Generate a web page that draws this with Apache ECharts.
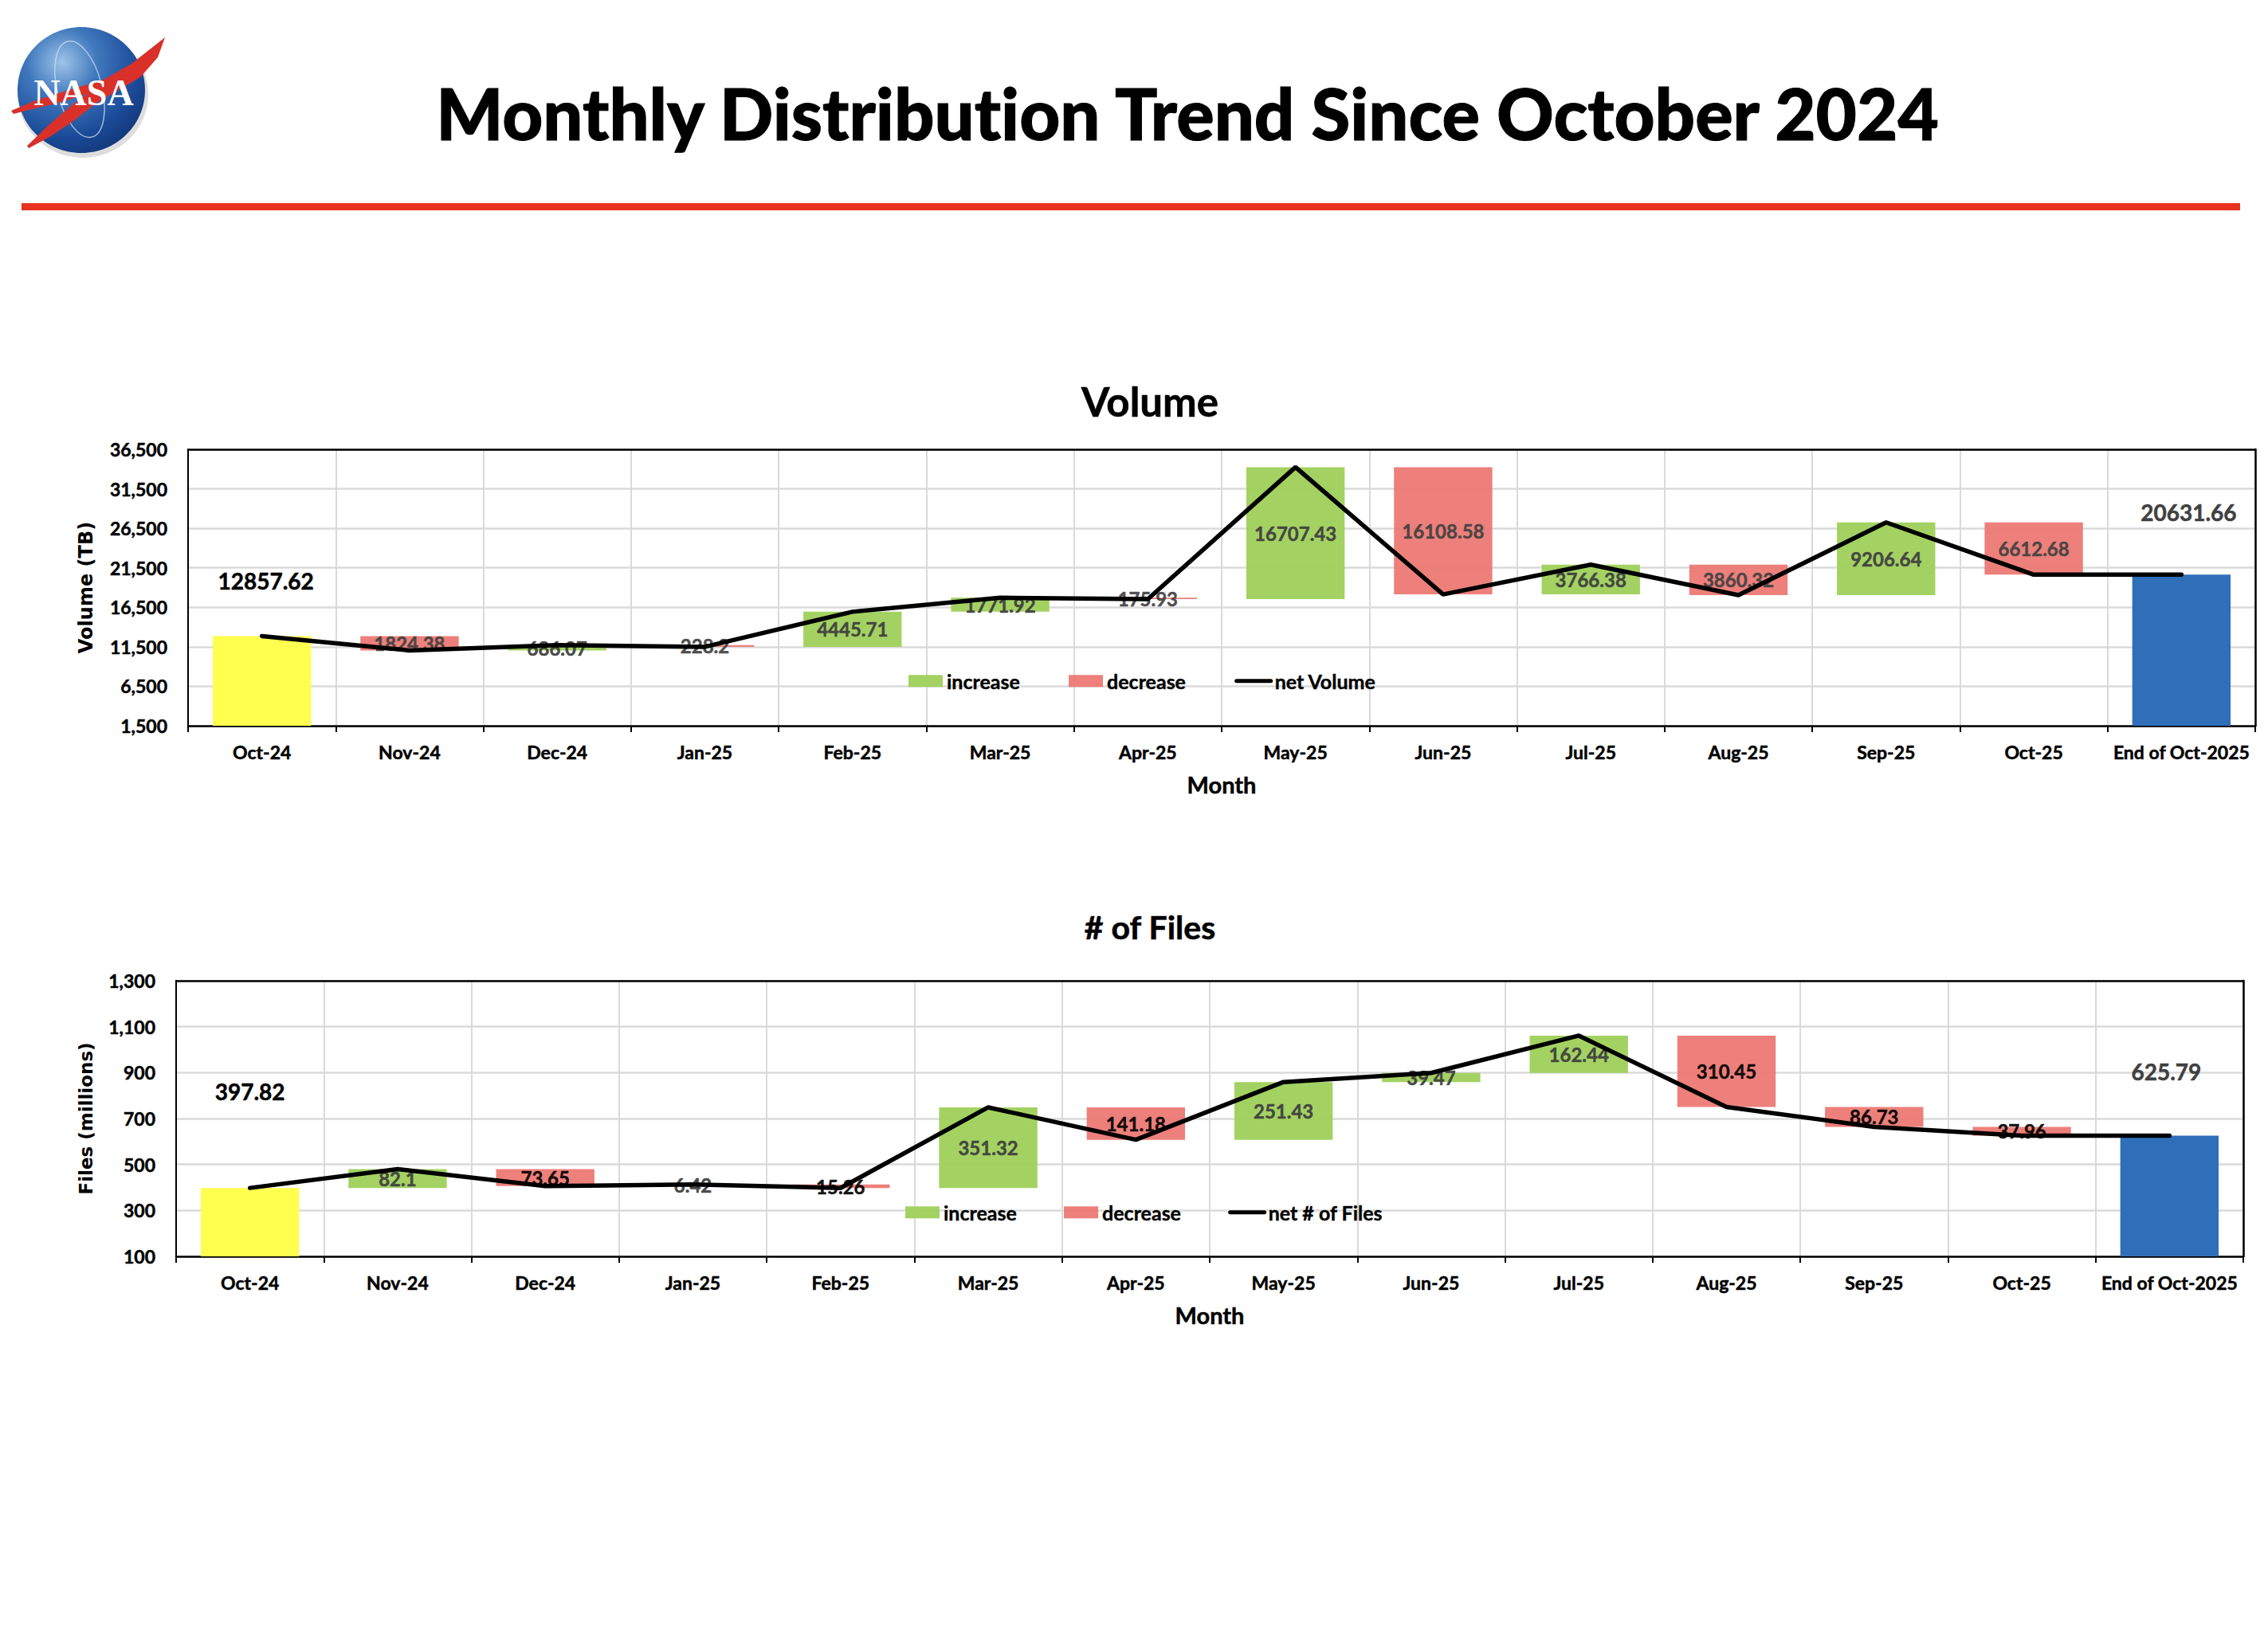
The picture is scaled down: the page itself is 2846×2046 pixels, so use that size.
<!DOCTYPE html>
<html>
<head>
<meta charset="utf-8">
<title>Monthly Distribution Trend Since October 2024</title>
<script src="https://cdn.jsdelivr.net/npm/echarts@6/dist/echarts.min.js"></script>
<style>html,body{margin:0;padding:0;background:#fff}#c{width:2846px;height:2046px;font-variant-ligatures:none}#c text{font-variant-ligatures:none}</style>
</head>
<body>
<div id="c"></div>
<script>
const categories = ['Oct-24','Nov-24','Dec-24','Jan-25','Feb-25','Mar-25','Apr-25','May-25','Jun-25','Jul-25','Aug-25','Sep-25','Oct-25','End of Oct-2025'];

const volumeStart    = [12857.62,null,null,null,null,null,null,null,null,null,null,null,null,null];
const volumeEnd      = [null,null,null,null,null,null,null,null,null,null,null,null,null,20631.66];
const volumeBase     = [null,11033.24,11033.24,11491.11,11491.11,15936.82,17532.81,17532.81,18131.66,18131.66,18037.72,18037.72,20631.68,null];
const volumeIncrease = [null,null,686.07,null,4445.71,1771.92,null,16707.43,null,3766.38,null,9206.64,null,null];
const volumeDecrease = [null,1824.38,null,228.2,null,null,175.93,null,16108.58,null,3860.32,null,6612.68,null];
const volumeNet      = [12857.62,11033.24,11719.31,11491.11,15936.82,17708.74,17532.81,34240.24,18131.66,21898.04,18037.72,27244.36,20631.68,20631.66];
const volumeTicks    = [1500,6500,11500,16500,21500,26500,31500,36500];

const filesStart    = [397.82,null,null,null,null,null,null,null,null,null,null,null,null,null];
const filesEnd      = [null,null,null,null,null,null,null,null,null,null,null,null,null,625.79];
const filesBase     = [null,397.82,406.27,406.27,397.43,397.43,607.57,607.57,859,898.47,750.46,663.73,625.77,null];
const filesIncrease = [null,82.1,null,6.42,null,351.32,null,251.43,39.47,162.44,null,null,null,null];
const filesDecrease = [null,null,73.65,null,15.26,null,141.18,null,null,null,310.45,86.73,37.96,null];
const filesNet      = [397.82,479.92,406.27,412.69,397.43,748.75,607.57,859,898.47,1060.91,750.46,663.73,625.77,625.79];
const filesTicks    = [100,300,500,700,900,1100,1300];

const FONT = 'Lato';
const GREEN = '#9FD05C', RED = '#EC7671', YELLOW = '#FFFF50', BLUE = '#2F6FB9', GRID = '#DADADA';
const fmt = v => Number(v).toLocaleString('en-US');

function xAxis(gridIndex){
  return {
    type:'category', gridIndex, data:categories, boundaryGap:true,
    name:'Month', nameLocation:'middle', nameGap:59,
    nameTextStyle:{fontFamily:FONT,fontWeight:'bold',fontSize:29,color:'#000',textBorderColor:'#000',textBorderWidth:0.5},
    axisLine:{show:true,onZero:false,lineStyle:{color:'#000',width:2.5}},
    axisTick:{show:true,length:8,alignWithLabel:false,lineStyle:{color:'#000',width:2}},
    axisLabel:{interval:0,margin:21,fontFamily:FONT,fontWeight:'bold',fontSize:23,color:'#000',textBorderColor:'#000',textBorderWidth:0.5},
    splitLine:{show:true,interval:0,lineStyle:{color:GRID,width:2}}
  };
}
function topBorder(gridIndex){
  return {type:'category',gridIndex,data:categories,position:'top',axisLine:{show:true,onZero:false,lineStyle:{color:'#000',width:2.5}},
    axisTick:{show:false},axisLabel:{show:false},splitLine:{show:false}};
}
function rightBorder(gridIndex,ticks){
  return {type:'value',gridIndex,position:'right',min:ticks[0],max:ticks[ticks.length-1],axisLine:{show:true,onZero:false,lineStyle:{color:'#000',width:2.5}},
    axisTick:{show:false},axisLabel:{show:false},splitLine:{show:false}};
}
function yAxis(gridIndex,name,ticks,gap,nameSize){
  return {
    type:'value', gridIndex, name, nameLocation:'middle', nameGap:gap, nameRotate:90,
    nameTextStyle:{fontFamily:'DejaVu Sans',fontWeight:'bold',fontSize:nameSize,color:'#000'},
    min:ticks[0], max:ticks[ticks.length-1],
    axisLine:{show:true,lineStyle:{color:'#000',width:2}},
    axisTick:{show:false,customValues:ticks},
    axisLabel:{margin:26,customValues:ticks,fontFamily:FONT,fontWeight:'bold',fontSize:23,color:'#000',textBorderColor:'#000',textBorderWidth:0.5,formatter:v=>fmt(v)},
    splitLine:{show:true,customValues:ticks,lineStyle:{color:GRID,width:2.5}}
  };
}
function barLabel(color){
  return {show:true,position:'inside',fontFamily:FONT,fontWeight:'bold',fontSize:24,color,textBorderColor:color,textBorderWidth:0.5,formatter:p=>String(p.value)};
}
function endLabel(color,distance,offset){
  return {show:true,position:'top',distance,offset,fontFamily:FONT,fontWeight:'bold',fontSize:28,color,textBorderColor:color,textBorderWidth:0.5,formatter:p=>String(p.value)};
}
function chartSeries(i,d){
  const common = {type:'bar',xAxisIndex:i,yAxisIndex:i,stack:'w'+i,barWidth:'66.6%'};
  return [
    {...common,name:'base'+i,data:d.base,itemStyle:{color:'transparent'},silent:true},
    {...common,name:'start'+i,data:d.start,itemStyle:{color:YELLOW},label:endLabel('#000',d.startDist,d.startOffset)},
    {...common,name:'increase',data:d.inc,itemStyle:{color:GREEN,opacity:0.96},label:barLabel('#404040')},
    {...common,name:'decrease',data:d.dec,itemStyle:{color:RED,opacity:0.93},label:barLabel(d.decColor)},
    {...common,name:'end'+i,data:d.end,itemStyle:{color:BLUE},label:endLabel('#404040',d.endDist,d.endOffset)},
    {type:'line',name:d.netName,xAxisIndex:i,yAxisIndex:i,data:d.net,symbol:'none',showSymbol:false,smooth:false,z:5,
     lineStyle:{color:'#000',width:5.5,cap:'round'},itemStyle:{color:'#000'}}
  ];
}
function legend(netName,left,top,gap){
  return {
    data:[{name:'increase',icon:'rect'},{name:'decrease',icon:'rect'},{name:netName,itemStyle:{opacity:0},lineStyle:{width:5,color:'#000',cap:'round'}}],
    left, top, orient:'horizontal', itemWidth:43, itemHeight:15, itemGap:gap, selectedMode:false,
    textStyle:{fontFamily:FONT,fontWeight:'bold',fontSize:25,color:'#000',textBorderColor:'#000',textBorderWidth:0.4}
  };
}

const option = {
  backgroundColor:'#fff', animation:false,
  title:[
    {text:'Monthly Distribution Trend Since October 2024',left:1485,top:92,textAlign:'center',
     textStyle:{fontFamily:FONT,fontWeight:900,fontSize:88.6,color:'#000',textBorderColor:'#000',textBorderWidth:1}},
    {text:'Volume',left:1438,top:473,textAlign:'center',textStyle:{fontFamily:FONT,fontWeight:'bold',fontSize:51,color:'#000',textBorderColor:'#000',textBorderWidth:0.6}},
    {text:'# of Files',left:1438,top:1138,textAlign:'center',textStyle:{fontFamily:FONT,fontWeight:'bold',fontSize:41,color:'#000',textBorderColor:'#000',textBorderWidth:0.6}}
  ],
  grid:[
    {left:236,top:564,width:2594,height:347,containLabel:false},
    {left:221,top:1231,width:2594,height:346,containLabel:false}
  ],
  xAxis:[xAxis(0),xAxis(1),topBorder(0),topBorder(1)],
  yAxis:[yAxis(0,'Volume (TB)',volumeTicks,116,24),yAxis(1,'Files (millions)',filesTicks,102,23),rightBorder(0,volumeTicks),rightBorder(1,filesTicks)],
  legend:[legend('net Volume',1135,837,61),legend('net # of Files',1131,1504,59)],
  series:[
    ...chartSeries(0,{base:volumeBase,start:volumeStart,end:volumeEnd,inc:volumeIncrease,dec:volumeDecrease,net:volumeNet,
      netName:'net Volume',decColor:'#404040',startDist:55,startOffset:[5,0],endDist:64,endOffset:[9,0]}),
    ...chartSeries(1,{base:filesBase,start:filesStart,end:filesEnd,inc:filesIncrease,dec:filesDecrease,net:filesNet,
      netName:'net # of Files',decColor:'#000',startDist:107,startOffset:[0,0],endDist:66,endOffset:[-4,0]})
  ],
  graphic:[
    {type:'rect',shape:{x:27,y:255,width:2784,height:9},style:{fill:'#E9321F'},silent:true},
    {type:'ellipse',shape:{cx:104,cy:118,rx:82,ry:80},style:{fill:'#bbbbbb',opacity:0.5},silent:true},
    {type:'ellipse',shape:{cx:102,cy:113,rx:80,ry:79},silent:true,
     style:{fill:{type:'radial',x:0.35,y:0.28,r:0.8,colorStops:[{offset:0,color:'#9DC4E8'},{offset:0.35,color:'#3F77BC'},{offset:0.75,color:'#1A4A97'},{offset:1,color:'#123677'}]}}},
    {type:'ellipse',shape:{cx:0,cy:0,rx:28,ry:62},x:100,y:112,rotation:0.25,silent:true,
     style:{fill:'none',stroke:'#C9DDF0',lineWidth:1.5,opacity:0.75}},
    {type:'polygon',silent:true,shape:{points:[[207,47],[198,72],[176,97],[150,112],[120,130],[92,152],[62,172],[36,186],[34,183],[60,158],[90,132],[110,118],[70,130],[40,137],[17,143],[14,139],[45,126],[90,112],[130,100],[165,80]]},
     style:{fill:'#D9302A'}},
    {type:'text',silent:true,style:{x:105,y:116,text:'NASA',align:'center',verticalAlign:'middle',font:'bold 46px "Liberation Serif"',fill:'#fff'}}
  ]
};
echarts.init(document.getElementById('c'),null,{renderer:'svg',width:2846,height:2046}).setOption(option);
</script>
</body>
</html>
